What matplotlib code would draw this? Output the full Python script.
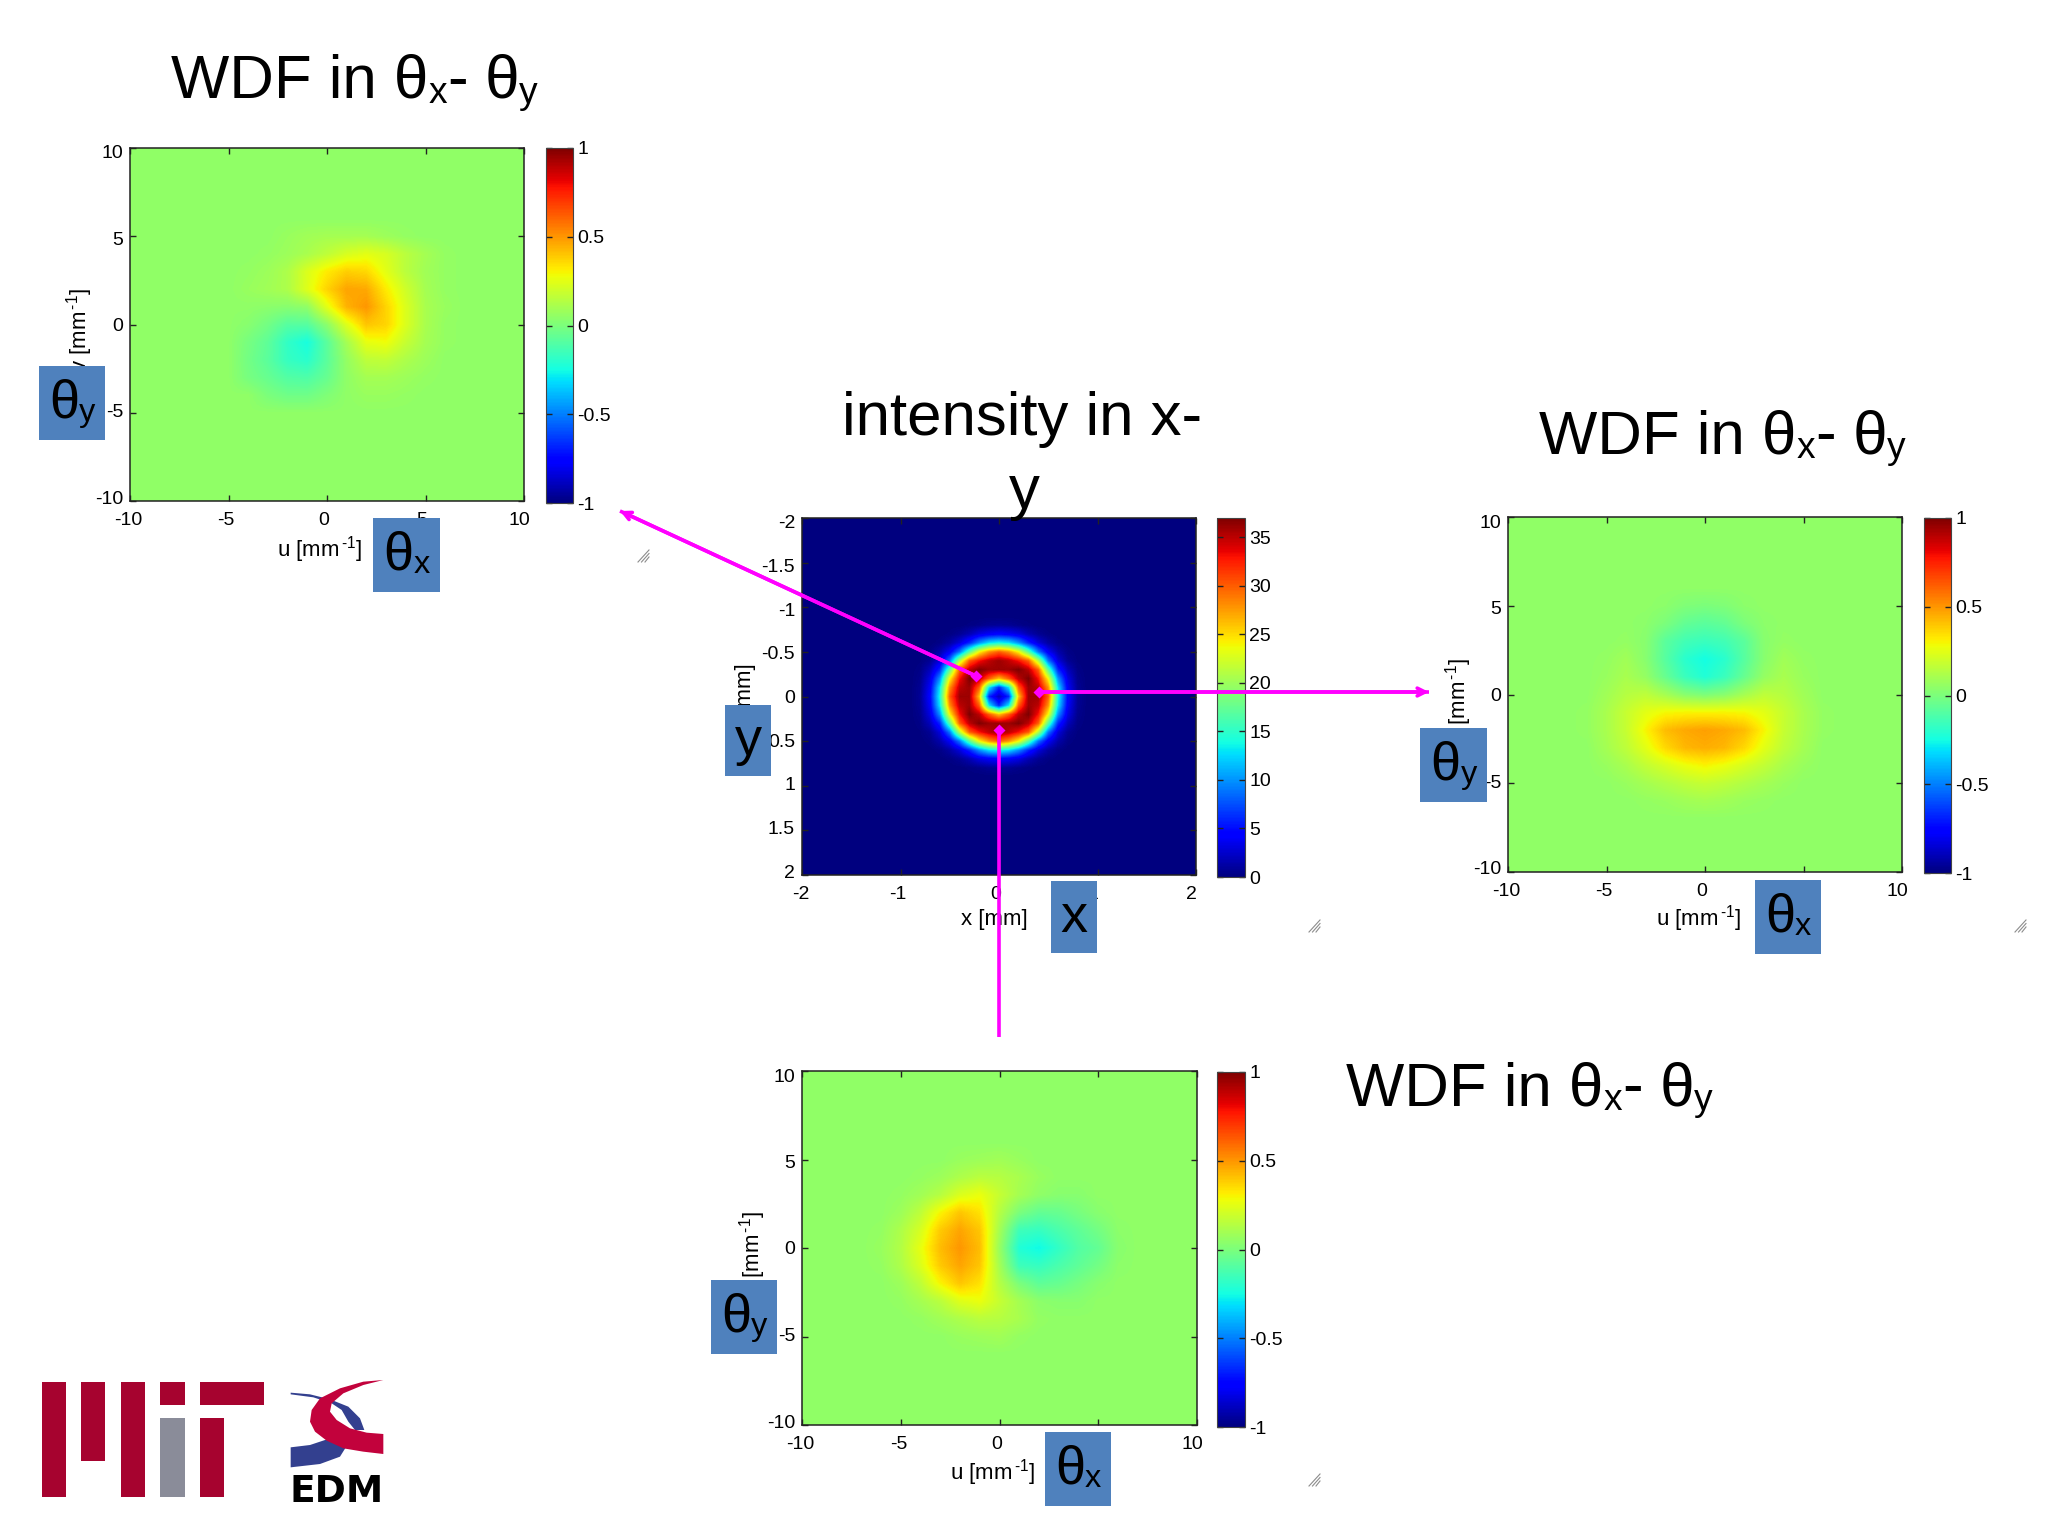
import numpy as np
import matplotlib
matplotlib.use("Agg")
import matplotlib.pyplot as plt
from matplotlib.patches import Rectangle, Polygon
from matplotlib.transforms import ScaledTranslation

plt.rcParams['font.family'] = ['Liberation Sans', 'DejaVu Sans']
plt.rcParams['mathtext.fontset'] = 'custom'
plt.rcParams['mathtext.rm'] = 'Liberation Sans'
plt.rcParams['mathtext.it'] = 'Liberation Sans'
plt.rcParams['mathtext.default'] = 'regular'

W, H = 2048, 1536
BG = 0.05  # flat background level of the WDF maps
BOX = '#4F81BD'
MAGENTA = '#FF00FF'

# --- DATA ---
# columns u = -7..7, rows v = 6..-6 (step 1)
wdf_left = [
    [.05, .05, .05, .05, .05, .05, .05, .05, .05, .05, .05, .05, .05, .05, .05],
    [.05, .05, .05, .05, .05, .07, .09, .10, .10, .10, .08, .06, .05, .05, .05],
    [.05, .05, .05, .05, .06, .08, .11, .16, .22, .25, .22, .15, .10, .06, .05],
    [.05, .05, .05, .06, .08, .12, .23, .32, .38, .36, .25, .15, .09, .06, .05],
    [.05, .05, .05, .07, .09, .12, .24, .37, .47, .46, .32, .20, .10, .06, .05],
    [.05, .05, .05, .05, .04, .03, .05, .25, .44, .50, .37, .23, .11, .07, .05],
    [.05, .05, .05, .03, -.02, -.09, -.09, .04, .24, .40, .37, .23, .11, .06, .05],
    [.05, .05, .05, -.01, -.07, -.18, -.24, -.08, .10, .26, .28, .18, .10, .06, .05],
    [.05, .05, .05, -.02, -.08, -.17, -.20, -.08, .06, .16, .17, .12, .08, .05, .05],
    [.05, .05, .05, -.01, -.05, -.10, -.11, -.05, .05, .10, .10, .08, .06, .05, .05],
    [.05, .05, .05, .05, .00, -.03, -.03, .01, .05, .07, .07, .06, .05, .05, .05],
    [.05, .05, .05, .05, .05, .05, .05, .05, .05, .05, .05, .05, .05, .05, .05],
    [.05, .05, .05, .05, .05, .05, .05, .05, .05, .05, .05, .05, .05, .05, .05],
]
wdf_right = [
    [.05, .05, .05, .05, .05, .05, .05, .05, .05, .05, .05, .05, .05, .05, .05],
    [.05, .05, .05, .05, .05, .04, .01, .00, .01, .04, .05, .05, .05, .05, .05],
    [.05, .05, .05, .05, .04, .00, -.06, -.08, -.06, .00, .04, .05, .05, .05, .05],
    [.05, .05, .05, .06, .03, -.08, -.14, -.16, -.14, -.08, .03, .06, .05, .05, .05],
    [.05, .05, .06, .09, .03, -.09, -.20, -.25, -.20, -.09, .03, .09, .06, .05, .05],
    [.05, .05, .07, .11, .06, -.05, -.16, -.22, -.16, -.05, .06, .11, .07, .05, .05],
    [.05, .05, .09, .14, .16, .10, .03, .00, .03, .10, .16, .14, .09, .05, .05],
    [.05, .06, .11, .18, .25, .29, .30, .30, .30, .29, .25, .18, .11, .06, .05],
    [.05, .06, .11, .18, .30, .42, .46, .48, .46, .42, .30, .18, .11, .06, .05],
    [.05, .05, .10, .16, .25, .36, .43, .45, .43, .36, .25, .16, .10, .05, .05],
    [.05, .05, .07, .11, .17, .22, .27, .30, .27, .22, .17, .11, .07, .05, .05],
    [.05, .05, .05, .07, .10, .13, .16, .18, .16, .13, .10, .07, .05, .05, .05],
    [.05, .05, .05, .05, .06, .07, .09, .10, .09, .07, .06, .05, .05, .05, .05],
]
wdf_bottom = [
    [.05, .05, .05, .05, .05, .05, .05, .05, .05, .05, .05, .05, .05, .05, .05],
    [.05, .05, .05, .05, .05, .07, .08, .09, .07, .05, .05, .05, .05, .05, .05],
    [.05, .05, .05, .06, .08, .12, .15, .14, .11, .07, .05, .05, .05, .05, .05],
    [.05, .05, .06, .09, .14, .23, .27, .18, .10, .05, .03, .03, .05, .05, .05],
    [.05, .05, .08, .16, .30, .40, .34, .14, .00, -.06, -.05, -.01, .03, .05, .05],
    [.05, .06, .12, .22, .39, .47, .40, .10, -.15, -.17, -.12, -.07, -.02, .04, .05],
    [.05, .07, .13, .26, .42, .50, .42, .07, -.22, -.26, -.18, -.10, -.06, .03, .05],
    [.05, .06, .12, .23, .39, .47, .40, .10, -.15, -.17, -.12, -.07, -.02, .04, .05],
    [.05, .05, .08, .16, .30, .40, .34, .14, .00, -.07, -.05, -.01, .03, .05, .05],
    [.05, .05, .06, .10, .15, .24, .27, .18, .10, .04, .03, .03, .05, .05, .05],
    [.05, .05, .05, .06, .09, .12, .15, .14, .11, .06, .05, .05, .05, .05, .05],
    [.05, .05, .05, .05, .05, .07, .08, .09, .06, .05, .05, .05, .05, .05, .05],
    [.05, .05, .05, .05, .05, .05, .05, .05, .05, .05, .05, .05, .05, .05, .05],
]
# x, y = -0.8..0.8 (step 0.1)
intensity = [
    [0, 0, 0, 0, 0, .2, .4, .7, .8, .7, .4, .2, 0, 0, 0, 0, 0],
    [0, 0, 0, .2, .7, 1.7, 3.2, 4, 4.5, 4, 3.2, 1.7, .7, .2, 0, 0, 0],
    [0, 0, .3, 1.2, 3, 6, 10, 13, 14, 13, 10, 6, 3, 1.2, .3, 0, 0],
    [0, .3, 1.5, 4, 9, 17, 24, 28, 30, 28, 24, 17, 9, 4, 1.5, .3, 0],
    [.1, .7, 3, 9, 21, 30, 33, 35, 36, 35, 33, 30, 21, 9, 3, .7, .1],
    [.3, 2, 6, 17, 30, 35, 37, 36, 36, 36, 37, 35, 30, 17, 6, 2, .3],
    [.5, 3.2, 10, 24, 33, 37, 35, 30, 26, 30, 35, 37, 33, 24, 10, 3.2, .5],
    [.7, 4, 13, 28, 35, 36, 30, 13, 6, 13, 30, 36, 35, 28, 13, 4, .7],
    [.8, 4.5, 14, 30, 36, 36, 26, 6, 2, 6, 26, 36, 36, 30, 14, 4.5, .8],
    [.7, 4, 13, 28, 35, 36, 30, 13, 6, 13, 30, 36, 35, 28, 13, 4, .7],
    [.5, 3.2, 10, 24, 33, 37, 35, 30, 26, 30, 35, 37, 33, 24, 10, 3.2, .5],
    [.3, 2, 6, 17, 30, 35, 37, 36, 36, 36, 37, 35, 30, 17, 6, 2, .3],
    [.1, .7, 3, 9, 21, 30, 33, 35, 36, 35, 33, 30, 21, 9, 3, .7, .1],
    [0, .3, 1.5, 4, 9, 17, 24, 28, 30, 28, 24, 17, 9, 4, 1.5, .3, 0],
    [0, 0, .3, 1.2, 3, 6, 10, 13, 14, 13, 10, 6, 3, 1.2, .3, 0, 0],
    [0, 0, 0, .2, .7, 1.7, 3.2, 4, 4.5, 4, 3.2, 1.7, .7, .2, 0, 0, 0],
    [0, 0, 0, 0, 0, .2, .4, .7, .8, .7, .4, .2, 0, 0, 0, 0, 0],
]

wdf_ticks = [-10, -5, 0, 5, 10]
wdf_bar_ticks = [-1, -0.5, 0, 0.5, 1]
xy_x_ticks = [-2, -1, 0, 1, 2]
xy_y_ticks = [-2, -1.5, -1, -0.5, 0, 0.5, 1, 1.5, 2]
xy_bar_ticks = [0, 5, 10, 15, 20, 25, 30, 35]

U_LABEL = 'u [mm$^{\\,\\text{-1}}$]'
V_LABEL = 'v [mm$^{\\,\\text{-1}}$]'
# runs of (text, is_subscript)
THETA_X = [('\u03b8', False), ('x', True)]
THETA_Y = [('\u03b8', False), ('y', True)]
WDF_TITLE = [('WDF in \u03b8', False), ('x', True), ('-', False), (' \u03b8', False), ('y', True)]


def fmt(v):
    return f'{v:g}'


def place(left, top, right, bottom):
    return fig.add_axes([left / W, 1 - bottom / H, (right - left) / W, (bottom - top) / H])


def shift_label(lab, dx_px, dy_px):
    off = ScaledTranslation(dx_px / 100, dy_px / 100, fig.dpi_scale_trans)
    lab.set_transform(lab.get_transform() + off)


def style_axes(ax, xticks, yticks):
    ax.set_xticks(xticks, [fmt(t) for t in xticks])
    ax.set_yticks(yticks, [fmt(t) for t in yticks])
    ax.tick_params(direction='in', top=True, right=True, length=4, width=1, labelsize=14,
                   color='#222222')
    ax.tick_params(axis='x', pad=8)
    ax.tick_params(axis='y', pad=5)
    for s in ax.spines.values():
        s.set_linewidth(1.1)
        s.set_color('#222222')
    # the tick labels in the reference sit slightly inside the tick positions
    x0, x1 = ax.get_xlim()
    y0, y1 = ax.get_ylim()
    for lab, t in zip(ax.get_xticklabels(), xticks):
        shift_label(lab, -1.5 - 3.5 * (t - x0) / (x1 - x0), 0)
    for lab, t in zip(ax.get_yticklabels(), yticks):
        shift_label(lab, 0, -4 * (2 * (t - y0) / (y1 - y0) - 1))


def add_bar(im, box, ticks):
    cax = place(*box)
    cb = fig.colorbar(im, cax=cax)
    cb.set_ticks(ticks, labels=[fmt(t) for t in ticks])
    cax.tick_params(direction='in', left=True, right=True, length=4, width=1, labelsize=14, pad=3,
                    color='#222222')
    cb.outline.set_linewidth(0.8)
    cb.outline.set_edgecolor('#444444')


def wdf_panel(data, box, bar_box, xlab_px, ylab_px):
    left, top, right, bottom = box
    ax = place(*box)
    grid = np.pad(np.array(data), ((4, 4), (3, 3)), constant_values=BG)
    im = ax.imshow(grid, cmap='jet', vmin=-1, vmax=1, extent=[-10.5, 10.5, -10.5, 10.5],
                   interpolation='bilinear', aspect='auto')
    ax.set_xlim(-10, 10)
    ax.set_ylim(-10, 10)
    style_axes(ax, wdf_ticks, wdf_ticks)
    ax.set_xlabel(U_LABEL, fontsize=16, va='center')
    ax.set_ylabel(V_LABEL, fontsize=16, va='center')
    ax.xaxis.set_label_coords((xlab_px[0] - left) / (right - left), (bottom - xlab_px[1]) / (bottom - top))
    ax.yaxis.set_label_coords((ylab_px - left) / (right - left), 0.485)
    add_bar(im, bar_box, wdf_bar_ticks)


def draw_runs(x, y, runs, size, center=False):
    # text with small subscripts, laid out run by run on one baseline
    renderer = fig.canvas.get_renderer()
    items = []
    total = 0
    for s, is_sub in runs:
        t = ov.text(0, 0, s, fontsize=size * 0.6 if is_sub else size, ha='left', va='baseline', color='black')
        w = t.get_window_extent(renderer).width
        items.append((t, is_sub, w))
        total += w
    px = x - total / 2 if center else x
    for t, is_sub, w in items:
        t.set_position((px, y + (size * 0.105 if is_sub else 0)))
        px += w


fig = plt.figure(figsize=(W / 100, H / 100), dpi=100, facecolor='white')

# --- PANELS ---
wdf_panel(wdf_left, (130, 148, 524, 501), (546, 148, 573, 503), (320, 550), 80)
wdf_panel(wdf_right, (1508, 517, 1902, 872), (1924, 518, 1951, 873), (1699, 919), 1459)
wdf_panel(wdf_bottom, (802, 1071, 1197, 1425), (1217, 1072, 1245, 1427), (993, 1473), 753)

ax = place(802, 518, 1196, 875)
grid = np.pad(np.array(intensity, dtype=float), 12, constant_values=0)
im = ax.imshow(grid, cmap='jet', vmin=0, vmax=37, extent=[-2.05, 2.05, 2.05, -2.05],
               interpolation='bilinear', aspect='auto')
ax.set_xlim(-2, 2)
ax.set_ylim(2, -2)
style_axes(ax, xy_x_ticks, xy_y_ticks)
ax.set_xlabel('x [mm]', fontsize=16, va='center')
ax.set_ylabel('y [mm]', fontsize=16, va='center')
ax.xaxis.set_label_coords((994 - 802) / 394, (875 - 920) / 357)
ax.yaxis.set_label_coords((745 - 802) / 394, 0.5)
add_bar(im, (1217, 518, 1245, 877), xy_bar_ticks)

# --- OVERLAY IN PIXEL COORDINATES ---
ov = fig.add_axes([0, 0, 1, 1], zorder=5)
ov.set_xlim(0, W)
ov.set_ylim(H, 0)
ov.axis('off')
ov.patch.set_alpha(0)

# titles
for tx, ty in [(171, 98), (1539, 453), (1346, 1105)]:
    draw_runs(tx, ty, WDF_TITLE, 44.5)
ov.text(842, 435, 'intensity in x-', fontsize=44.5, ha='left', va='baseline', color='black')
ov.text(1024, 508, 'y', fontsize=44.5, ha='center', va='baseline', color='black')

# blue label boxes
boxes = [
    (39, 366, 105, 440, THETA_Y), (373, 518, 440, 592, THETA_X),
    (725, 705, 771, 776, 'y'), (1051, 881, 1097, 953, 'x'),
    (1420, 728, 1487, 802, THETA_Y), (1755, 880, 1821, 954, THETA_X),
    (711, 1280, 777, 1354, THETA_Y), (1045, 1432, 1111, 1506, THETA_X),
]
for x0, y0, x1, y1, s in boxes:
    ov.add_patch(Rectangle((x0, y0), x1 - x0, y1 - y0, fc=BOX, ec='none'))
    if isinstance(s, str):
        ov.text((x0 + x1) / 2, (y0 + y1) / 2 + 15, s, fontsize=39, ha='center', va='baseline', color='black')
    else:
        draw_runs((x0 + x1) / 2, (y0 + y1) / 2 + 14, s, 39, center=True)

# arrows from the ring to the WDF maps
arrows = [((976, 676), (620, 511), True), ((1039, 692), (1429, 692), True), ((999, 730), (999, 1037), False)]
for start, end, head in arrows:
    ov.plot([start[0], end[0]], [start[1], end[1]], color=MAGENTA, lw=2.6, solid_capstyle='butt')
    ov.plot(*start, marker='D', ms=6, color=MAGENTA, mec='none')
    if head:
        ov.annotate('', xy=end, xytext=start,
                    arrowprops=dict(arrowstyle='->', color=MAGENTA, lw=2.6, mutation_scale=14,
                                    shrinkA=0, shrinkB=0))

# window resize grips
for gx, gy in [(644, 556), (1315, 926), (2021, 926), (1315, 1480)]:
    for k in [0, 3.5, 7]:
        ov.plot([gx - 6 + k, gx + 5], [gy + 6, gy - 6 + k], color='#8c8c8c', lw=0.8)

# MIT logo
mit_red = '#A6032F'
mit_grey = '#8A8C99'
for x0, y0, x1, y1, c in [(42, 1382, 66, 1497, mit_red), (81, 1382, 105, 1461, mit_red),
                          (121, 1382, 145, 1497, mit_red), (160, 1382, 185, 1405, mit_red),
                          (160, 1418, 185, 1497, mit_grey), (200, 1382, 264, 1405, mit_red),
                          (200, 1418, 224, 1497, mit_red)]:
    ov.add_patch(Rectangle((x0, y0), x1 - x0, y1 - y0, fc=c, ec='none'))


# EDM logo, outlines taken from the 3x crop of that corner
def logo_pts(pts):
    return [(20 + x / 3, 1350 + y / 3) for x, y in pts]


blue_top = [(812, 128), (870, 133), (930, 148), (985, 170), (1020, 205), (1033, 240), (1005, 240),
            (985, 215), (965, 180), (935, 160), (880, 142), (812, 133)]
blue_low = [(812, 292), (870, 285), (915, 270), (960, 262), (985, 280), (960, 320), (900, 342), (812, 352)]
red_band = [(1090, 90), (1030, 95), (960, 115), (900, 145), (875, 180), (870, 215), (885, 245), (920, 272),
            (970, 295), (1030, 305), (1090, 312), (1090, 252), (1040, 248), (990, 235), (950, 210),
            (930, 185), (935, 160), (970, 130), (1030, 105)]
ov.add_patch(Polygon(logo_pts(blue_top), fc='#33408F', ec='none'))
ov.add_patch(Polygon(logo_pts(blue_low), fc='#33408F', ec='none'))
ov.add_patch(Polygon(logo_pts(red_band), fc='#C2023C', ec='none'))
ov.text(337, 1502, 'EDM', fontsize=27, fontweight='bold', family='DejaVu Sans', ha='center', va='baseline',
        color='black')

fig.savefig('out.png', dpi=100)
